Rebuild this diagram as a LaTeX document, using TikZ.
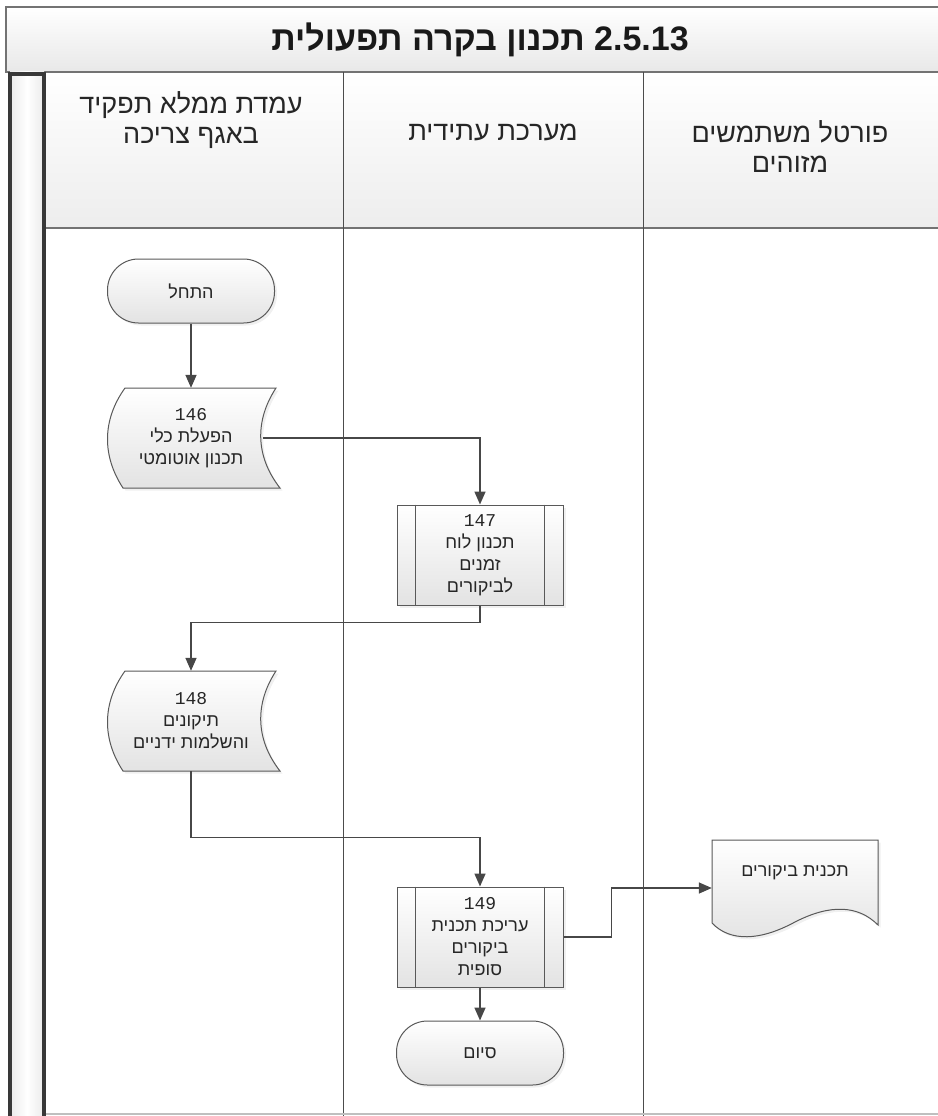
\documentclass[tikz,border=0pt]{standalone}
\usepackage{fontspec}
\setmainfont{Liberation Sans}
\newfontfamily\hebfont[Script=Hebrew]{Liberation Sans}
\newfontfamily\numfont{Liberation Mono}
\TeXXeTstate=1
\newcommand{\heb}[1]{{\hebfont\beginR #1\endR}}
\usetikzlibrary{arrows.meta,calc,shadows}
\tikzset{
  laneline/.style={draw=black!70, line width=0.9pt},
  box/.style={draw=black!65, line width=1pt, top color=white, bottom color=black!11,
    drop shadow={opacity=0.12, shadow xshift=2.5pt, shadow yshift=-2.5pt}},
  term/.style={box, rounded corners=31pt, minimum width=167pt, minimum height=64pt, inner sep=0pt},
  proc/.style={box, minimum width=166pt, minimum height=100pt, inner sep=0pt},
  ghost/.style={inner sep=0pt},
  ntext/.style={font=\fontsize{18}{22}\selectfont, text=black!85, align=center},
  htext/.style={font=\fontsize{27}{30}\selectfont, text=black!85, align=center},
  arr/.style={draw=black!72, line width=1.6pt, -{Triangle[length=13pt,width=11pt]}},
}
\begin{document}
\begin{tikzpicture}[x=1pt,y=-1pt]
\useasboundingbox (0,0) rectangle (937,1116);
% title bar
\path[top color=white, bottom color=black!9, draw=black!55, line width=1.6pt] (6,7) rectangle (945,72);
\node[font=\fontsize{34}{37}\selectfont\bfseries, text=black!90] (title) at (480,40) {{\hebfont\bfseries\beginR תכנון בקרה תפעולית\endR} 2.5.13};
% header row
\path[top color=white, bottom color=black!7] (46,72) rectangle (945,228);
\draw[draw=black!55, line width=1.6pt] (46,228) -- (945,228);
\draw[draw=black!55, line width=1.2pt] (46,72) -- (945,72);
% lane separators
\draw[laneline] (343,72) -- (343,1116);
\draw[laneline] (643,72) -- (643,1116);
\draw[draw=black!25, line width=1.5pt] (46,1114) -- (945,1114);
% left strip
\path[left color=black!8, right color=black!8, middle color=white] (10,72) rectangle (44,1116);
\draw[draw=black!78, line width=4pt] (10,72) -- (10,1116);
\draw[draw=black!78, line width=4pt] (43.5,72) -- (43.5,1116);
\draw[draw=black!78, line width=4pt] (8,74) -- (45.5,74);
% headers
\node[htext] (h1) at (191,120) {\heb{עמדת ממלא תפקיד}\\\heb{באגף צריכה}};
\node[htext] (h2) at (493,132) {\heb{מערכת עתידית}};
\node[htext] (h3) at (790,147) {\heb{פורטל משתמשים}\\\heb{מזוהים}};
% nodes
\node[term, ntext] (start) at (191,291) {\heb{התחל}};
\path[box] (125,388) -- (276,388) .. controls (255,420) and (255,456) .. (280,488) -- (123,488) .. controls (102,456) and (102,420) .. (125,388) -- cycle;
\node[ghost, ntext, minimum width=144pt, minimum height=100pt] (n146) at (191,438) {{\numfont 146}\\\heb{הפעלת כלי}\\\heb{תכנון אוטומטי}};
\node[proc, ntext] (n147) at (480,555) {{\numfont 147}\\\heb{תכנון לוח}\\\heb{זמנים}\\\heb{לביקורים}};
\draw[draw=black!65, line width=1pt] ([xshift=19pt]n147.north west) -- ([xshift=19pt]n147.south west);
\draw[draw=black!65, line width=1pt] ([xshift=-19pt]n147.north east) -- ([xshift=-19pt]n147.south east);
\path[box] (125,671) -- (276,671) .. controls (255,703) and (255,739) .. (280,771) -- (123,771) .. controls (102,739) and (102,703) .. (125,671) -- cycle;
\node[ghost, ntext, minimum width=144pt, minimum height=100pt] (n148) at (191,721) {{\numfont 148}\\\heb{תיקונים}\\\heb{והשלמות ידניים}};
\node[proc, ntext] (n149) at (480,937) {{\numfont 149}\\\heb{עריכת תכנית}\\\heb{ביקורים}\\\heb{סופית}};
\draw[draw=black!65, line width=1pt] ([xshift=19pt]n149.north west) -- ([xshift=19pt]n149.south west);
\draw[draw=black!65, line width=1pt] ([xshift=-19pt]n149.north east) -- ([xshift=-19pt]n149.south east);
\node[term, ntext] (end) at (480,1053) {\heb{סיום}};
% document
\path[box] (712,840) -- (878,840) -- (878,925) .. controls (858,905) and (830,904) .. (795,922) .. controls (760,941) and (730,942) .. (712,923) -- cycle;
\node[ghost, minimum width=166pt, minimum height=96pt] (doc) at (795,888) {};
\node[ntext] (doclabel) at (795,873) {\heb{תכנית ביקורים}};
% connectors
\draw[arr] (start.south) -- (n146.north);
\draw[arr] (n146.east) -| (n147.north);
\draw[arr] (n147.south) -- ++(0,17) -| (n148.north);
\draw[arr] (n148.south) |- ([yshift=49pt]n149.north) -- (n149.north);
\draw[arr] (n149.east) -- ++(48,0) |- (doc.west);
\draw[arr] (n149.south) -- (end.north);
\end{tikzpicture}
\end{document}
